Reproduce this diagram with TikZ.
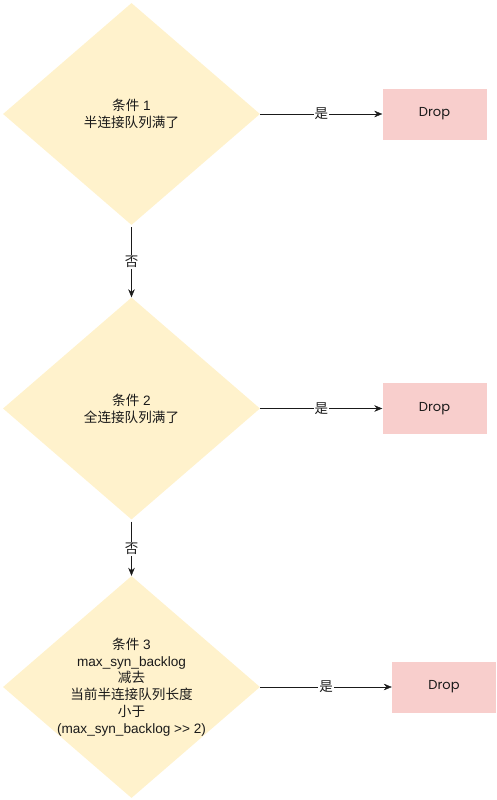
\documentclass[tikz,border=0pt]{standalone}
\usepackage{fontspec}
\usetikzlibrary{shapes.geometric,arrows.meta}
\setmainfont{Liberation Sans}
\newfontfamily\cjk{Noto Sans CJK SC}
\newfontfamily\dropfont{Poppins}
\definecolor{condfill}{HTML}{FFF2CC}
\definecolor{dropfill}{HTML}{F8CECC}
\definecolor{ink}{HTML}{1A1A1A}

\begin{document}
\begin{tikzpicture}[x=1pt, y=-1pt,
    cond/.style={shape=diamond, fill=condfill, aspect=1.158, minimum width=257pt, minimum height=222pt, inner sep=0pt},
    condtext/.style={align=center, text=ink, font=\fontsize{13.6}{16.7}\selectfont},
    dropbox/.style={fill=dropfill, minimum width=104pt, minimum height=51pt, text=ink, font=\dropfont\fontsize{13}{15}\selectfont},
    arrow/.style={draw=ink, -{Stealth[length=8pt, width=6.5pt]}},
    answer/.style={fill=white, inner sep=1pt, text=ink, font=\cjk\fontsize{13.5}{15}\selectfont}]
    \useasboundingbox (0,0) rectangle (496,800);
    % the three conditions
    \node[cond] (c1) at (131.5, 114) {};
    \node[cond] (c2) at (131.5, 408.5) {};
    \node[cond] (c3) at (131.5, 687) {};
    \node[condtext] at (c1) {{\cjk 条件} 1\\{\cjk 半连接队列满了}};
    \node[condtext] at (c2) {{\cjk 条件} 2\\{\cjk 全连接队列满了}};
    \node[condtext] at (c3) {{\cjk 条件} 3\\max\_syn\_backlog\\{\cjk 减去}\\{\cjk 当前半连接队列长度}\\{\cjk 小于}\\(max\_syn\_backlog {>}{>} 2)};
    % drop boxes
    \node[dropbox] (drop1) at (434.5, 114) {Drop};
    \node[dropbox] (drop2) at (434.5, 408.5) {Drop};
    \node[dropbox] (drop3) at (444, 687) {Drop};
    % yes
    \draw[arrow] (c1.east) -- (drop1.west) node[answer, midway] {是};
    \draw[arrow] (c2.east) -- (drop2.west) node[answer, midway] {是};
    \draw[arrow] (c3.east) -- (drop3.west) node[answer, midway] {是};
    % no
    \draw[arrow] (c1.south) ++(0,2) -- (c2.north) node[answer, midway] {否};
    \draw[arrow] (c2.south) ++(0,2) -- (c3.north) node[answer, midway] {否};
\end{tikzpicture}
\end{document}
